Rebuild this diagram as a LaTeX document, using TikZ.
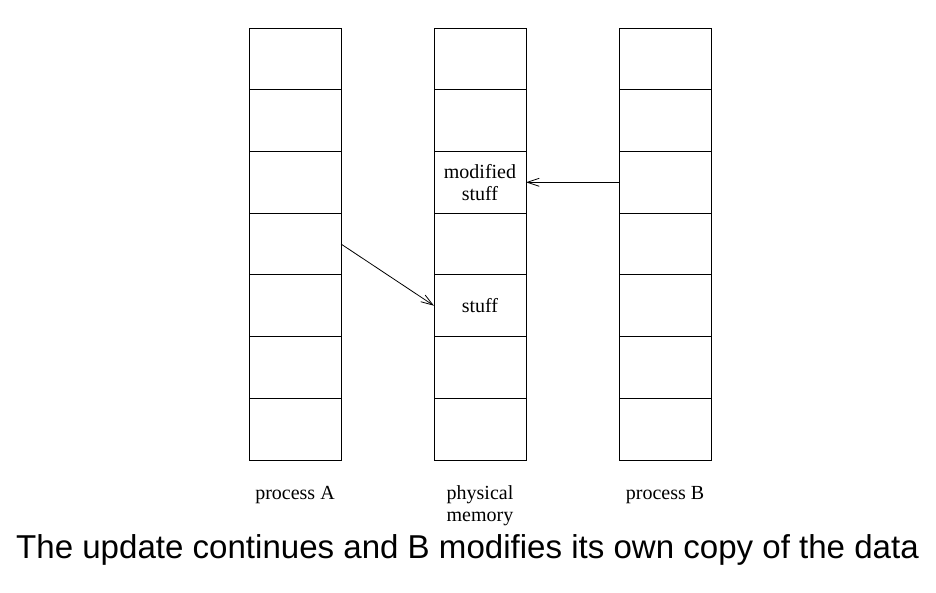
\documentclass[tikz,border=0pt]{standalone}
\usepackage{fontspec}
\setmainfont{Liberation Serif}
\newfontfamily\capfont{Liberation Sans}
\usetikzlibrary{arrows.meta}
\begin{document}
\begin{tikzpicture}[x=0.75pt,y=-0.75pt,
 cell/.style={draw, line width=0.6pt, minimum width=69pt, minimum height=46.28pt, inner sep=0pt, outer sep=0pt},
 lbl/.style={font=\fontsize{15}{16.8}\selectfont, align=center, inner sep=0pt},
 captiontext/.style={font=\capfont\fontsize{24.8}{29}\selectfont, inner sep=0pt},
 ptr/.style={line width=0.6pt, -{Straight Barb[length=9pt,width=6pt]}}]
\useasboundingbox (0,0) rectangle (936,593);
\foreach \c/\x in {A/295,P/480,B/665}{
  \foreach \r in {1,...,7}{
    \node[cell] (\c\r) at (\x, {28+(\r-0.5)*61.714}) {};
  }
}
\node[lbl] (mod) at (P3) {modified\\stuff};
\node[lbl] (stf) at (P5) {stuff};
\node[lbl] (la) at (295,495) {process A};
\node[lbl] (lp) at (480,506) {physical\\memory};
\node[lbl] (lb) at (665,495) {process B};
\node[captiontext] (caption) at (467.5,549.5) {The update continues and B modifies its own copy of the data};
\draw[ptr] (A4.east) -- (P5.west);
\draw[ptr] (B3.west) -- (P3.east);
\end{tikzpicture}
\end{document}
